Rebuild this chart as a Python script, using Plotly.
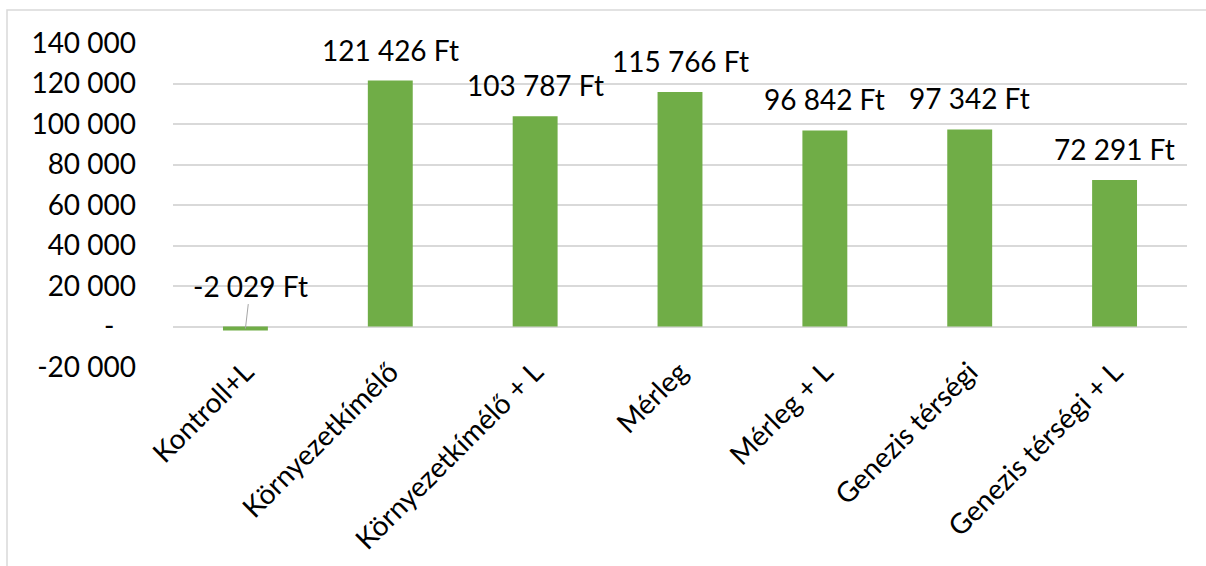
import plotly.graph_objects as go

categories = ["Kontroll+L", "Környezetkímélő", "Környezetkímélő + L", "Mérleg",
              "Mérleg + L", "Genezis térségi", "Genezis térségi + L"]
values = [-2029, 121426, 103787, 115766, 96842, 97342, 72291]
tick_vals = [140000, 120000, 100000, 80000, 60000, 40000, 20000, 0, -20000]
tick_text = ["140 000", "120 000", "100 000", "80 000", "60 000", "40 000",
             "20 000", "-\u00a0\u00a0\u00a0", "-20 000"]

FONT = "Lato, Carlito, Calibri, sans-serif"
FS = 28
GRID = "#D9D9D9"


def fmt(v):
    return f"{v:,}".replace(",", " ") + " Ft"


fig = go.Figure()
fig.add_trace(go.Bar(
    x=categories, y=values,
    marker=dict(color="#70AD47", line=dict(width=0)),
    hoverinfo="skip",
))

annotations = []
for c, v in zip(categories, values):
    if v >= 0:
        annotations.append(dict(
            x=c, y=v, xref="x", yref="y", text=fmt(v), showarrow=False,
            yanchor="bottom", yshift=12, font=dict(family=FONT, size=FS, color="#000000"),
        ))
    else:
        annotations.append(dict(
            x=c, y=v / 2, xref="x", yref="y", text=fmt(v), showarrow=True,
            arrowhead=0, arrowwidth=1, arrowcolor="#A6A6A6", ax=5, ay=-43,
            font=dict(family=FONT, size=FS, color="#000000"),
        ))

fig.update_layout(
    width=1206, height=566,
    margin=dict(l=173, r=19, t=43, b=199, autoexpand=False),
    paper_bgcolor="white", plot_bgcolor="white",
    bargap=0.69,
    showlegend=False,
    font=dict(family=FONT, size=FS, color="#000000"),
    annotations=annotations,
    xaxis=dict(
        tickangle=-45, showgrid=False, zeroline=False, showline=False,
        ticks="", ticklabelstandoff=-18,
        tickfont=dict(family=FONT, size=FS, color="#000000"),
        fixedrange=True, automargin=False,
    ),
    yaxis=dict(
        range=[-20000, 140000], tickvals=tick_vals, ticktext=tick_text,
        showgrid=True, gridcolor=GRID, gridwidth=2,
        zeroline=True, zerolinecolor=GRID, zerolinewidth=2,
        showline=False, ticks="", ticklabelstandoff=36,
        tickfont=dict(family=FONT, size=FS, color="#000000"),
        fixedrange=True, automargin=False,
    ),
    shapes=[dict(
        type="rect", xref="paper", yref="paper",
        x0=(7 - 173) / 1014, x1=(1215 - 173) / 1014,
        y0=(367 - 580) / 324, y1=(367 - 10) / 324,
        line=dict(color=GRID, width=1.5), fillcolor="rgba(0,0,0,0)", layer="below",
    )],
)

fig.write_html("out.html", config={"displayModeBar": False})
